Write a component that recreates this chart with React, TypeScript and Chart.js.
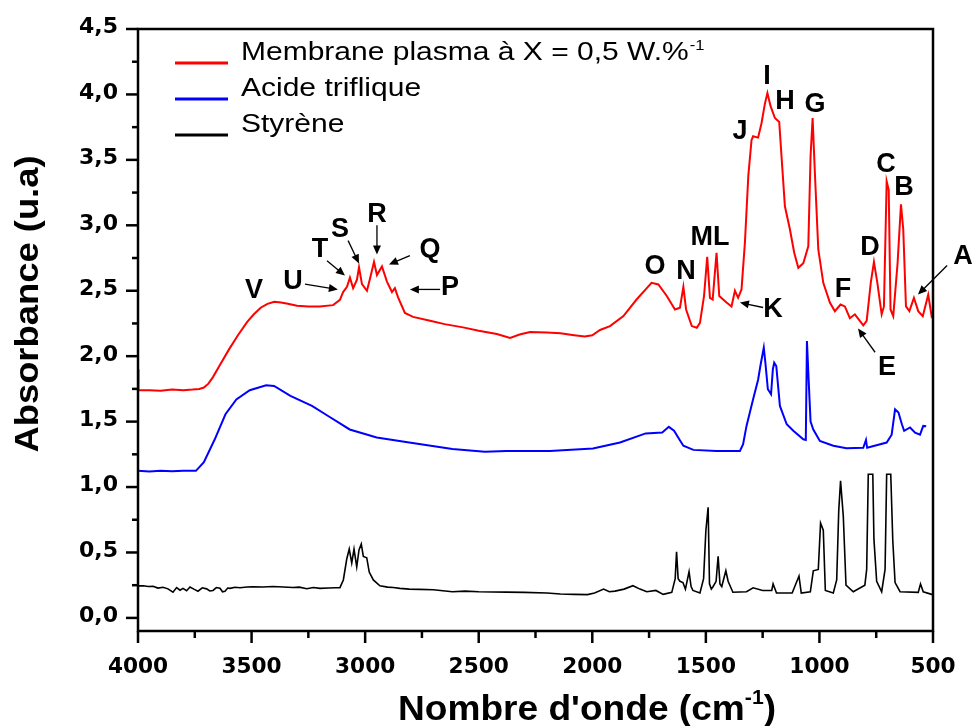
import React, { useEffect, useRef } from "react";
import { Chart, registerables } from "chart.js";

Chart.register(...registerables);

// ---------- Data (wavenumber in cm-1, absorbance in u.a) ----------
const membraneWavenumber = [
  4000, 3998, 3950, 3900, 3850, 3800, 3760, 3730, 3710, 3690, 3670, 3640, 3600, 3560, 3520, 3490, 3460, 3430, 3400, 3370,
  3340, 3300, 3250, 3200, 3141, 3111, 3097, 3080, 3067, 3053, 3036, 3027, 3014, 2992, 2979, 2961, 2948, 2926, 2904, 2882,
  2869, 2855, 2825, 2789, 2714, 2650, 2569, 2500, 2420, 2362, 2320, 2274, 2200, 2140, 2080, 2033, 2000, 1966, 1922, 1863,
  1805, 1760, 1739, 1709, 1672, 1636, 1614, 1599, 1587, 1562, 1540, 1526, 1508, 1494, 1482, 1470, 1453, 1441, 1409, 1387,
  1372, 1358, 1343, 1328, 1313, 1299, 1292, 1270, 1255, 1240, 1229, 1215, 1196, 1177, 1167, 1152, 1130, 1111, 1093, 1071,
  1049, 1039, 1030, 1020, 1005, 983, 954, 932, 907, 888, 866, 844, 807, 792, 774, 760, 745, 726, 716, 704,
  695, 687, 675, 656, 641, 631, 619, 604, 584, 565, 545, 521, 506, 500,
];
const membraneAbsorbance = [
  1.9, 1.74, 1.74, 1.735, 1.745, 1.74, 1.745, 1.75, 1.76, 1.79, 1.84, 1.93, 2.05, 2.16, 2.26, 2.32, 2.37, 2.4, 2.415, 2.41,
  2.4, 2.385, 2.38, 2.38, 2.39, 2.43, 2.49, 2.53, 2.6, 2.52, 2.585, 2.68, 2.55, 2.5, 2.59, 2.72, 2.62, 2.685, 2.57, 2.49,
  2.52, 2.45, 2.33, 2.3, 2.27, 2.245, 2.22, 2.195, 2.17, 2.14, 2.165, 2.185, 2.18, 2.175, 2.16, 2.15, 2.16, 2.2, 2.23, 2.306,
  2.433, 2.52, 2.56, 2.548, 2.46, 2.357, 2.37, 2.53, 2.357, 2.23, 2.217, 2.255, 2.46, 2.76, 2.446, 2.433, 2.79, 2.46, 2.41, 2.38,
  2.5, 2.446, 2.51, 2.87, 3.38, 3.65, 3.68, 3.67, 3.78, 3.93, 4.01, 3.91, 3.82, 3.79, 3.53, 3.145, 2.97, 2.79, 2.675, 2.71,
  2.84, 3.53, 3.82, 3.4, 2.815, 2.56, 2.41, 2.344, 2.395, 2.38, 2.29, 2.32, 2.235, 2.27, 2.56, 2.72, 2.56, 2.32, 2.38, 3.336,
  3.27, 2.357, 2.306, 2.71, 3.16, 2.97, 2.38, 2.344, 2.446, 2.344, 2.306, 2.47, 2.306, 2.32,
];

const triflicWavenumber = [
  4000, 3950, 3900, 3850, 3800, 3745, 3710, 3662, 3615, 3567, 3508, 3436, 3401, 3329, 3234, 3163, 3068, 2949, 2806, 2616,
  2473, 2378, 2187, 1997, 1878, 1765, 1692, 1663, 1640, 1615, 1599, 1555, 1453, 1350, 1336, 1321, 1292, 1270, 1260, 1245,
  1238, 1227, 1213, 1205, 1199, 1190, 1174, 1144, 1115, 1071, 1060, 1055, 1047, 1039, 1027, 998, 939, 881, 807, 795,
  790, 704, 682, 667, 652, 637, 627, 601, 579, 557, 543, 530,
];
const triflicAbsorbance = [
  1.124, 1.118, 1.124, 1.121, 1.124, 1.124, 1.19, 1.365, 1.556, 1.67, 1.74, 1.777, 1.772, 1.696, 1.62, 1.543, 1.44, 1.378, 1.34, 1.29,
  1.27, 1.276, 1.276, 1.294, 1.34, 1.41, 1.416, 1.46, 1.43, 1.36, 1.316, 1.284, 1.276, 1.276, 1.327, 1.467, 1.67, 1.82, 1.925, 2.065,
  1.95, 1.747, 1.709, 1.9, 1.95, 1.925, 1.62, 1.48, 1.43, 1.365, 1.36, 2.115, 1.8, 1.5, 1.44, 1.352, 1.316, 1.297, 1.3, 1.36,
  1.3, 1.34, 1.4, 1.594, 1.57, 1.48, 1.43, 1.455, 1.416, 1.4, 1.467, 1.465,
];

const styreneWavenumber = [
  4000, 3977, 3955, 3934, 3912, 3890, 3868, 3846, 3830, 3815, 3802, 3786, 3771, 3752, 3736, 3717, 3698, 3684, 3670, 3655,
  3639, 3628, 3617, 3605, 3595, 3573, 3551, 3520, 3494, 3450, 3406, 3360, 3318, 3290, 3257, 3228, 3199, 3160, 3130, 3111,
  3096, 3081, 3070, 3059, 3049, 3037, 3027, 3017, 3008, 2993, 2982, 2964, 2935, 2901, 2876, 2847, 2806, 2760, 2700, 2616,
  2560, 2500, 2440, 2378, 2300, 2200, 2140, 2080, 2021, 1990, 1950, 1925, 1900, 1860, 1821, 1790, 1760, 1720, 1688, 1650,
  1635, 1629, 1622, 1614, 1601, 1590, 1574, 1565, 1557, 1526, 1510, 1500, 1490, 1484, 1476, 1468, 1455, 1446, 1438, 1430,
  1412, 1402, 1381, 1321, 1292, 1250, 1210, 1204, 1189, 1120, 1090, 1080, 1040, 1027, 1005, 995, 983, 974, 939, 924,
  915, 907, 895, 883, 851, 800, 792, 785, 765, 760, 748, 726, 711, 704, 686, 677, 667, 645, 565, 555,
  543, 506, 500,
];
const styreneAbsorbance = [
  0.245, 0.246, 0.24, 0.242, 0.228, 0.234, 0.222, 0.196, 0.232, 0.212, 0.226, 0.208, 0.236, 0.218, 0.204, 0.23, 0.222, 0.206, 0.21, 0.232,
  0.226, 0.2, 0.204, 0.228, 0.226, 0.234, 0.231, 0.236, 0.238, 0.236, 0.24, 0.236, 0.232, 0.235, 0.223, 0.232, 0.226, 0.228, 0.23, 0.231,
  0.29, 0.45, 0.526, 0.42, 0.526, 0.39, 0.52, 0.565, 0.47, 0.46, 0.35, 0.29, 0.245, 0.235, 0.232, 0.226, 0.22, 0.218, 0.215, 0.2,
  0.205, 0.2, 0.198, 0.197, 0.195, 0.19, 0.183, 0.18, 0.178, 0.19, 0.22, 0.2, 0.205, 0.22, 0.246, 0.22, 0.2, 0.21, 0.18, 0.195,
  0.3, 0.506, 0.3, 0.28, 0.27, 0.22, 0.353, 0.24, 0.21, 0.19, 0.3, 0.666, 0.845, 0.26, 0.22, 0.24, 0.28, 0.47, 0.26, 0.24,
  0.36, 0.28, 0.196, 0.2, 0.23, 0.21, 0.21, 0.26, 0.19, 0.19, 0.32, 0.19, 0.2, 0.36, 0.37, 0.725, 0.67, 0.21, 0.19, 0.29,
  0.818, 1.047, 0.78, 0.25, 0.2, 0.25, 0.37, 1.098, 1.098, 0.6, 0.28, 0.2, 0.37, 1.098, 1.098, 0.59, 0.27, 0.2, 0.195, 0.26,
  0.2, 0.18, 0.18,
];

const seriesLabels = ["Membrane plasma à X = 0,5 W.%", "Acide triflique", "Styrène"];
const seriesColors = ["#ff0000", "#0000ff", "#000000"];

const xTickValues = [4000, 3500, 3000, 2500, 2000, 1500, 1000, 500];
const xTickLabels = ["4000", "3500", "3000", "2500", "2000", "1500", "1000", "500"];
const yTickValues = [0, 0.5, 1, 1.5, 2, 2.5, 3, 3.5, 4, 4.5];
const yTickLabels = ["0,0", "0,5", "1,0", "1,5", "2,0", "2,5", "3,0", "3,5", "4,0", "4,5"];

// Peak letters placed in data coordinates (wavenumber, absorbance)
const peakLetters = ["A", "B", "C", "D", "E", "F", "G", "H", "I", "J", "K", "ML", "N", "O", "P", "Q", "R", "S", "T", "U", "V"];
const peakLetterX = [368, 628, 707, 777, 702, 896, 1020, 1152, 1231, 1350, 1204, 1482, 1587, 1724, 2626, 2714, 2948, 3111, 3199, 3318, 3489];
const peakLetterY = [2.761, 3.288, 3.463, 2.83, 1.915, 2.51, 3.92, 3.944, 4.134, 3.715, 2.357, 2.906, 2.647, 2.685, 2.525, 2.815, 3.08, 2.967, 2.815, 2.57, 2.5];

// Arrows (data coordinates): tail -> head
const arrowLetters = ["A", "E", "K", "P", "Q", "R", "S", "T", "U"];
const arrowFromX = [438, 755, 1248, 2670, 2803, 2948, 3075, 3168, 3265];
const arrowFromY = [2.693, 2.03, 2.372, 2.51, 2.769, 3.0, 2.883, 2.73, 2.55];
const arrowToX = [566, 830, 1350, 2803, 2895, 2948, 3027, 3089, 3120];
const arrowToY = [2.471, 2.212, 2.41, 2.51, 2.7, 2.776, 2.708, 2.616, 2.51];

const FONT = '"Liberation Sans", Arial, Helvetica, sans-serif';
const TICK_FONT = '"DejaVu Sans", "Liberation Sans", Arial, sans-serif';

function drawText(
  ctx: CanvasRenderingContext2D,
  text: string,
  x: number,
  y: number,
  font: string,
  align: CanvasTextAlign,
  baseline: CanvasTextBaseline,
  stretch = 1
) {
  ctx.save();
  ctx.font = font;
  ctx.fillStyle = "#000";
  ctx.textAlign = align;
  ctx.textBaseline = baseline;
  ctx.translate(x, y);
  ctx.scale(stretch, 1);
  ctx.fillText(text, 0, 0);
  ctx.restore();
}

function drawArrow(ctx: CanvasRenderingContext2D, x1: number, y1: number, x2: number, y2: number) {
  const ang = Math.atan2(y2 - y1, x2 - x1);
  const head = 9;
  const half = 4;
  ctx.save();
  ctx.strokeStyle = "#000";
  ctx.fillStyle = "#000";
  ctx.lineWidth = 1.3;
  ctx.beginPath();
  ctx.moveTo(x1, y1);
  ctx.lineTo(x2 - Math.cos(ang) * head * 0.8, y2 - Math.sin(ang) * head * 0.8);
  ctx.stroke();
  ctx.beginPath();
  ctx.moveTo(x2, y2);
  ctx.lineTo(x2 - Math.cos(ang) * head - Math.sin(ang) * half, y2 - Math.sin(ang) * head + Math.cos(ang) * half);
  ctx.lineTo(x2 - Math.cos(ang) * head + Math.sin(ang) * half, y2 - Math.sin(ang) * head - Math.cos(ang) * half);
  ctx.closePath();
  ctx.fill();
  ctx.restore();
}

const decorPlugin = {
  id: "decor",
  afterDraw(chart: any) {
    const ctx: CanvasRenderingContext2D = chart.ctx;
    const { left, right, top, bottom } = chart.chartArea;
    const xs = chart.scales.x;
    const ys = chart.scales.y;

    // Frame
    ctx.save();
    ctx.strokeStyle = "#000";
    ctx.lineWidth = 2.5;
    ctx.strokeRect(left, top, right - left, bottom - top);

    // X ticks (major 500, minor 250)
    for (let v = 500; v <= 4000; v += 250) {
      const px = xs.getPixelForValue(v);
      const len = v % 500 === 0 ? 12 : 7;
      ctx.beginPath();
      ctx.moveTo(px, bottom);
      ctx.lineTo(px, bottom + len);
      ctx.stroke();
    }
    // Y ticks (major 0.5, minor 0.25)
    for (let i = 0; i <= 18; i++) {
      const v = i * 0.25;
      const py = ys.getPixelForValue(v);
      const len = i % 2 === 0 ? 12 : 6;
      ctx.beginPath();
      ctx.moveTo(left - len, py);
      ctx.lineTo(left, py);
      ctx.stroke();
    }
    ctx.restore();

    // Tick labels
    xTickValues.forEach((v, i) => {
      drawText(ctx, xTickLabels[i], xs.getPixelForValue(v), bottom + 37, `bold 21px ${TICK_FONT}`, "center", "middle", 1.03);
    });
    yTickValues.forEach((v, i) => {
      drawText(ctx, yTickLabels[i], left - 20, ys.getPixelForValue(v) - 1, `bold 21px ${TICK_FONT}`, "right", "middle", 1.05);
    });

    // Axis titles
    ctx.save();
    ctx.translate(29, 304);
    ctx.rotate(-Math.PI / 2);
    drawText(ctx, "Absorbance (u.a)", 0, 0, `bold 34px ${FONT}`, "center", "middle", 1.07);
    ctx.restore();

    const xtMain = "Nombre d'onde (cm";
    const xtSup = "-1";
    const xtEnd = ")";
    ctx.save();
    ctx.font = `bold 35px ${FONT}`;
    const wMain = ctx.measureText(xtMain).width;
    const wEnd = ctx.measureText(xtEnd).width;
    ctx.font = `bold 20px ${FONT}`;
    const wSup = ctx.measureText(xtSup).width;
    ctx.restore();
    const xtStretch = 1.06;
    const totalW = (wMain + wSup + wEnd) * xtStretch;
    const xtLeft = 587 - totalW / 2 + (left - 138);
    const xtBase = bottom + 89;
    drawText(ctx, xtMain, xtLeft, xtBase, `bold 35px ${FONT}`, "left", "alphabetic", xtStretch);
    drawText(ctx, xtSup, xtLeft + wMain * xtStretch, xtBase - 16, `bold 20px ${FONT}`, "left", "alphabetic", xtStretch);
    drawText(ctx, xtEnd, xtLeft + (wMain + wSup) * xtStretch, xtBase, `bold 35px ${FONT}`, "left", "alphabetic", xtStretch);

    // Legend (inside plot, top-left)
    const legY = [top + 34, top + 70, top + 106];
    seriesLabels.forEach((lab, i) => {
      ctx.save();
      ctx.strokeStyle = seriesColors[i];
      ctx.lineWidth = 3;
      ctx.beginPath();
      ctx.moveTo(left + 37, legY[i]);
      ctx.lineTo(left + 90, legY[i]);
      ctx.stroke();
      ctx.restore();
      drawText(ctx, lab, left + 103, legY[i] - 3, `25px ${FONT}`, "left", "alphabetic", 1.2);
      if (i === 0) {
        ctx.save();
        ctx.font = `25px ${FONT}`;
        const w = ctx.measureText(lab).width * 1.2;
        ctx.restore();
        drawText(ctx, "-1", left + 104 + w, legY[i] - 13, `15px ${FONT}`, "left", "alphabetic", 1.1);
      }
    });

    // Arrows
    arrowLetters.forEach((_, i) => {
      drawArrow(
        ctx,
        xs.getPixelForValue(arrowFromX[i]),
        ys.getPixelForValue(arrowFromY[i]),
        xs.getPixelForValue(arrowToX[i]),
        ys.getPixelForValue(arrowToY[i])
      );
    });
    // Peak letters
    peakLetters.forEach((l, i) => {
      drawText(ctx, l, xs.getPixelForValue(peakLetterX[i]), ys.getPixelForValue(peakLetterY[i]), `bold 27px ${FONT}`, "center", "middle", 1.0);
    });
  },
};

export default function App() {
  const canvasRef = useRef<HTMLCanvasElement | null>(null);

  useEffect(() => {
    if (!canvasRef.current) return;
    const mk = (xs: number[], ys: number[]) => xs.map((x, i) => ({ x, y: ys[i] }));
    const datasets = [
      { data: mk(membraneWavenumber, membraneAbsorbance) },
      { data: mk(triflicWavenumber, triflicAbsorbance) },
      { data: mk(styreneWavenumber, styreneAbsorbance) },
    ].map((d, i) => ({
      label: seriesLabels[i],
      data: d.data,
      showLine: true,
      borderColor: seriesColors[i],
      backgroundColor: seriesColors[i],
      borderWidth: i === 2 ? 1.6 : 2,
      pointRadius: 0,
      tension: 0,
      fill: false,
    }));

    const chart = new Chart(canvasRef.current, {
      type: "scatter",
      data: { datasets },
      options: {
        animation: false,
        responsive: false,
        devicePixelRatio: 1,
        layout: { padding: { top: 29, right: 42, left: 0, bottom: 0 } },
        plugins: { legend: { display: false }, tooltip: { enabled: false } },
        scales: {
          x: {
            type: "linear",
            reverse: true,
            min: 500,
            max: 4000,
            grid: { display: false, drawTicks: false },
            border: { display: false },
            ticks: { display: false },
            afterFit: (s: any) => {
              s.height = 95;
            },
          },
          y: {
            type: "linear",
            min: -0.1,
            max: 4.5,
            grid: { display: false, drawTicks: false },
            border: { display: false },
            ticks: { display: false },
            afterFit: (s: any) => {
              s.width = 138;
            },
          },
        },
      },
      plugins: [decorPlugin],
    });
    return () => chart.destroy();
  }, []);

  return (
    <div style={{ position: "absolute", left: 0, top: 0, width: 975, height: 726, background: "#fff" }}>
      <canvas ref={canvasRef} width={975} height={726} style={{ display: "block" }} />
    </div>
  );
}
